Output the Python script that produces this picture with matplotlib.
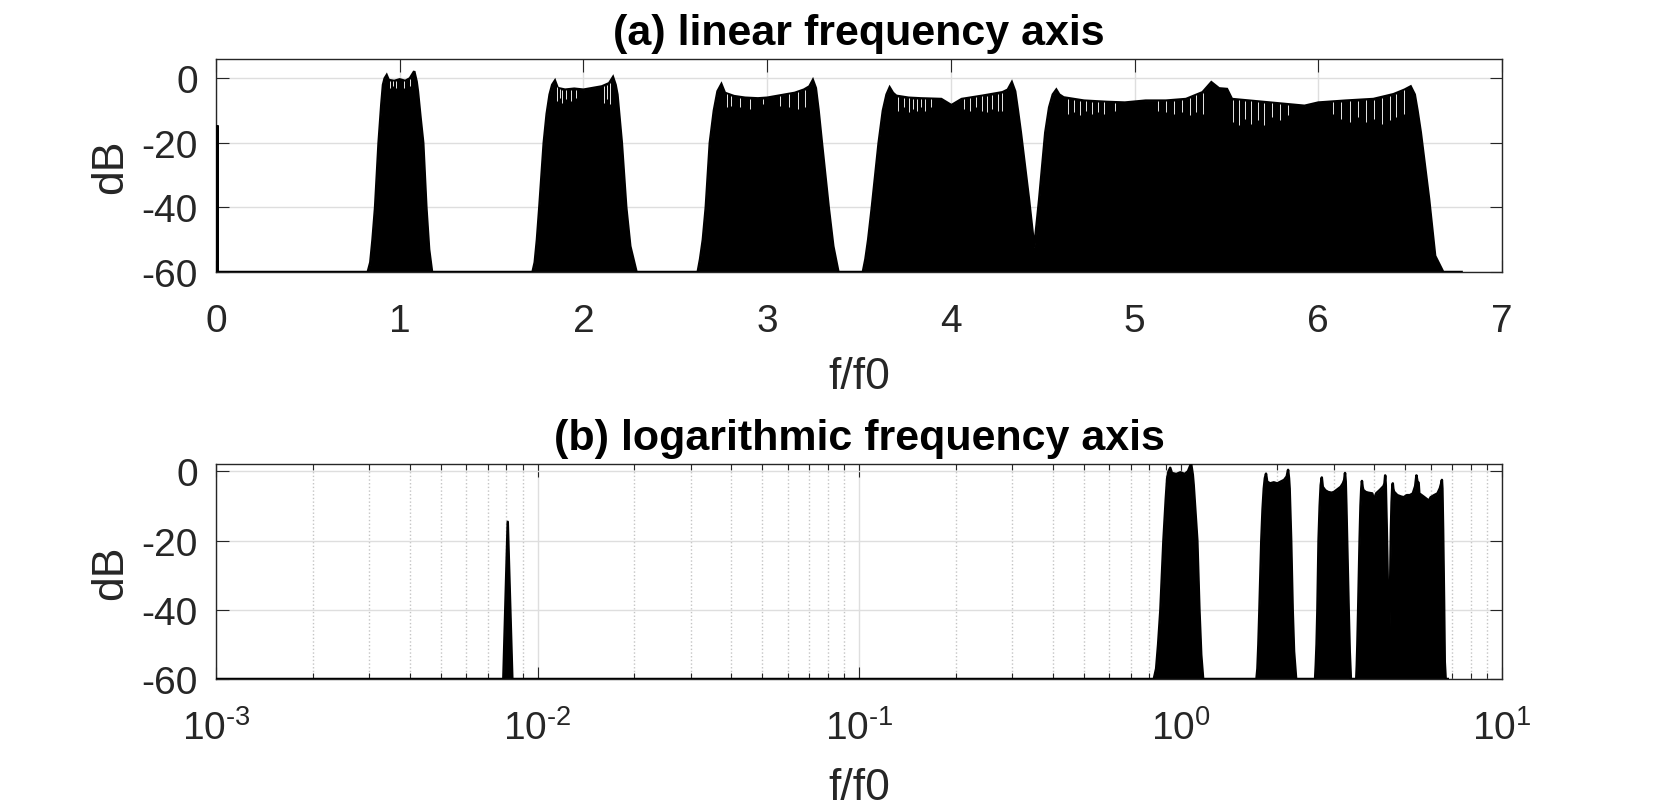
import numpy as np
import matplotlib
matplotlib.use("Agg")
import matplotlib.pyplot as plt
from matplotlib.ticker import LogLocator, NullFormatter, FuncFormatter

plt.rcParams['font.family'] = ['Liberation Sans', 'DejaVu Sans']
plt.rcParams['axes.unicode_minus'] = False
plt.rcParams['mathtext.fontset'] = 'custom'
plt.rcParams['mathtext.rm'] = 'Liberation Sans'
plt.rcParams['mathtext.it'] = 'Liberation Sans:italic'
plt.rcParams['mathtext.bf'] = 'Liberation Sans:bold'
plt.rcParams['mathtext.default'] = 'regular'

# ---------------- data ----------------
low_f = [0.0, 0.00783, 0.00808, 0.00835]
low_db = [-60, -60, -14.6, -60]

band1_f = [0.826, 0.840, 0.852, 0.866, 0.885, 0.900, 0.909, 0.918, 0.929, 0.940,
           0.970, 1.000, 1.030, 1.055, 1.079, 1.092, 1.099, 1.113, 1.128, 1.145, 1.160, 1.176]
band1_db = [-60, -57, -50, -40, -20, -8, -2, 0, 1.0, -0.5,
            -0.8, -0.3, -0.8, 0, 2.2, -1, -4, -12, -20, -40, -53, -60]

band2_f = [1.723, 1.735, 1.747, 1.760, 1.784, 1.800, 1.816, 1.830, 1.845, 1.860,
           1.900, 1.950, 2.000, 2.050, 2.100, 2.140, 2.161, 2.175, 2.185, 2.209, 2.233, 2.255, 2.289]
band2_db = [-60, -57, -50, -40, -20, -11, -5, -2, -0.7, -3,
            -3.5, -3.2, -3.5, -3, -2.5, -1.5, 0.4, -2, -5, -20, -40, -52, -60]

band3_f = [2.622, 2.635, 2.650, 2.666, 2.688, 2.710, 2.730, 2.751, 2.770, 2.820,
           2.880, 2.950, 3.000, 3.050, 3.100, 3.150, 3.200, 3.230, 3.249, 3.265,
           3.280, 3.298, 3.335, 3.360, 3.388]
band3_db = [-60, -56, -50, -40, -20, -10, -4, -1.8, -4.5, -5.5,
            -6, -6.2, -6, -5.5, -5, -4.5, -3.5, -2.5, -0.5, -3,
            -10, -20, -40, -52, -60]

band4_f = [3.521, 3.535, 3.550, 3.570, 3.607, 3.630, 3.650, 3.667, 3.685, 3.703,
           3.770, 3.836, 3.948, 4.003, 4.059, 4.170, 4.281, 4.310, 4.332, 4.350,
           4.365, 4.381, 4.425, 4.454]
band4_db = [-60, -56, -50, -40, -20, -10, -5, -2.8, -4.5, -5.4,
            -6, -6.2, -6.4, -8.3, -6.4, -5.4, -4.3, -3.5, -1.2, -4,
            -10, -16.8, -37.4, -52.4]

band5_f = [4.481, 4.514, 4.535, 4.555, 4.574, 4.590, 4.614, 4.725, 4.850, 4.947,
           5.060, 5.170, 5.280, 5.370, 5.418, 5.460, 5.503, 5.530, 5.700, 5.925,
           6.000, 6.150, 6.300, 6.410, 6.470, 6.503, 6.525, 6.540, 6.558, 6.603,
           6.636, 6.680, 6.780]
band5_db = [-37.4, -16.8, -9, -5, -3.5, -5, -5.9, -6.9, -7.3, -7.5,
            -6.9, -6.9, -6.4, -4.3, -1.2, -3.1, -3.3, -6.4, -7.3, -8.5,
            -7.5, -6.9, -6.4, -4.9, -3.5, -2.5, -5, -10, -16.8, -37.4,
            -55, -60, -60]

# narrow notches in the band tops (visible on the linear axis)
dip_f = [0.946, 0.962, 0.982, 1.026, 1.055,
         1.857, 1.872, 1.886, 1.905, 1.930, 1.959, 2.112, 2.130, 2.144,
         2.780, 2.805, 2.853, 2.907, 2.975, 3.072, 3.121, 3.169, 3.206,
         3.714, 3.743, 3.770, 3.792, 3.814, 3.837, 3.859, 3.892,
         4.070, 4.103, 4.137, 4.170, 4.197, 4.225, 4.259, 4.281,
         4.636, 4.670, 4.703, 4.736, 4.770, 4.803, 4.836, 4.892,
         5.125, 5.170, 5.214, 5.259, 5.303, 5.336, 5.370,
         5.536, 5.570, 5.603, 5.636, 5.670, 5.703, 5.747, 5.792, 5.836,
         6.081, 6.125, 6.170, 6.214, 6.258, 6.303, 6.347, 6.392, 6.425, 6.469]
dip_db = [-3, -2.5, -3, -3, -2.5,
          -7, -6, -7.5, -6.5, -7, -6, -7.5, -6.5, -8,
          -9, -8.5, -9, -9.5, -8, -8.5, -9, -9.5, -9,
          -10, -9, -10.5, -9.5, -10, -9, -10, -9,
          -9.5, -10, -9, -10, -10.5, -9.5, -10, -10,
          -11, -10.5, -11.5, -10, -11, -10.5, -11, -10,
          -10, -10.5, -11, -10.5, -11.5, -10.5, -11,
          -13.5, -14.5, -12.5, -14, -13, -14.5, -12, -13, -11.5,
          -11, -12.5, -13.5, -12, -13.5, -12.5, -14, -13, -12, -11]

FLOOR = -60
lin_xticks = [0, 1, 2, 3, 4, 5, 6, 7]
db_ticks = [-60, -40, -20, 0]

spec_f = np.array(low_f + band1_f + band2_f + band3_f + band4_f + band5_f)
spec_db = np.array(low_db + band1_db + band2_db + band3_db + band4_db + band5_db)

# ---------------- figure ----------------
W, H = 1661, 812
fig = plt.figure(figsize=(W / 100, H / 100), dpi=100)
TXT = '#262626'
TICK_FS = 28
LABEL_FS = 32
TITLE_FS = 31

ax1 = fig.add_axes([216 / W, (H - 273) / H, 1286 / W, 213 / H])
ax2 = fig.add_axes([216 / W, (H - 680) / H, 1286 / W, 215 / H])

def style(ax):
    ax.set_axisbelow(True)
    for s in ax.spines.values():
        s.set_color(TXT)
        s.set_linewidth(1.0)
    ax.tick_params(which='major', direction='in', top=True, right=True,
                   length=9, width=0.8, colors=TXT, labelsize=TICK_FS)
    ax.tick_params(which='minor', direction='in', top=True, right=True,
                   length=4.5, width=0.8, colors=TXT)
    ax.tick_params(axis='y', pad=13)

def log_fmt(v, pos):
    e = int(round(np.log10(v)))
    if e < 0:
        return r'$\mathdefault{10^{\text{-}%d}}$' % (-e)
    return r'$\mathdefault{10^{%d}}$' % e

# ---- (a) linear ----
style(ax1)
ax1.fill_between(spec_f, FLOOR, spec_db, color='black', lw=0, zorder=2)
ax1.plot(spec_f, spec_db, color='black', lw=1.8, zorder=3, solid_joinstyle='miter')
dip_top = np.interp(dip_f, spec_f, spec_db) - 0.2
ax1.vlines(dip_f, dip_db, dip_top, color='#e8e8e8', lw=0.7, zorder=4)
ax1.set_xlim(0, 7)
ax1.set_ylim(-60, 6)
ax1.set_xticks(lin_xticks)
ax1.set_yticks(db_ticks)
ax1.tick_params(axis='x', pad=22)
ax1.grid(True, which='major', color='#dedede', lw=1.0)
ax1.set_title('(a) linear frequency axis', fontsize=TITLE_FS, fontweight='bold',
              color='black', pad=11)
ax1.set_xlabel('f/f0', fontsize=LABEL_FS, color=TXT, va='baseline')
ax1.set_ylabel('dB', fontsize=LABEL_FS, color=TXT)
ax1.xaxis.set_label_coords(0.5, -(389 - 273) / 213)
ax1.yaxis.set_label_coords(-(216 - 131) / 1286, 0.5)

# ---- (b) logarithmic ----
style(ax2)
log_f = np.where(spec_f > 0, spec_f, 1e-4)
ax2.set_xscale('log')
ax2.fill_between(log_f, FLOOR, spec_db, color='black', lw=0, zorder=2)
ax2.plot(log_f, spec_db, color='black', lw=1.8, zorder=3)
ax2.set_xlim(1e-3, 10)
ax2.set_ylim(-60, 2.1)
ax2.set_yticks(db_ticks)
ax2.xaxis.set_major_locator(LogLocator(base=10, numticks=10))
ax2.xaxis.set_major_formatter(FuncFormatter(log_fmt))
ax2.xaxis.set_minor_locator(LogLocator(base=10, subs=np.arange(2, 10), numticks=20))
ax2.xaxis.set_minor_formatter(NullFormatter())
ax2.tick_params(axis='x', pad=22)
ax2.grid(True, which='major', color='#dedede', lw=1.0)
ax2.grid(True, which='minor', axis='x', color='#c4c4c4', lw=1.0, ls=':')
ax2.set_title('(b) logarithmic frequency axis', fontsize=TITLE_FS, fontweight='bold',
              color='black', pad=11)
ax2.set_xlabel('f/f0', fontsize=LABEL_FS, color=TXT, va='baseline')
ax2.set_ylabel('dB', fontsize=LABEL_FS, color=TXT)
ax2.xaxis.set_label_coords(0.5, -(800 - 680) / 215)
ax2.yaxis.set_label_coords(-(216 - 131) / 1286, 0.5)

fig.savefig('out.png', dpi=100, facecolor='white')
